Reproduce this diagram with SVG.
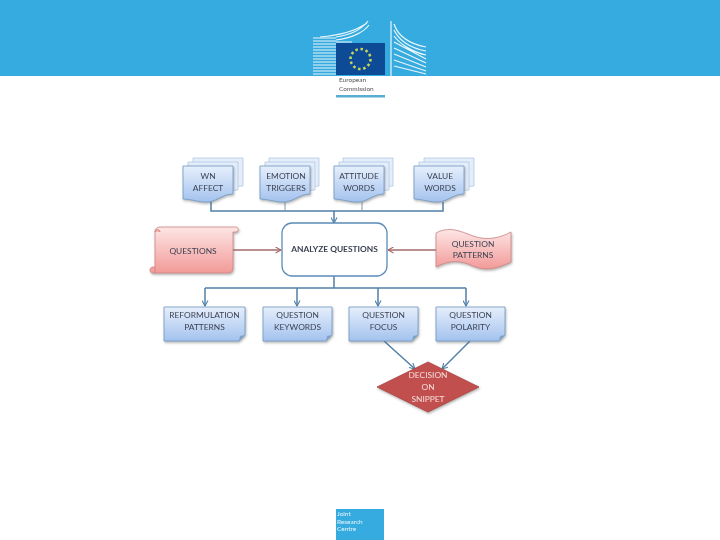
<svg xmlns="http://www.w3.org/2000/svg" width="720" height="540" viewBox="0 0 720 540">
<defs>
<linearGradient id="blue" x1="0" y1="0" x2="0" y2="1"><stop offset="0" stop-color="#e6effc"/><stop offset="1" stop-color="#a3c2ee"/></linearGradient>
<linearGradient id="red" x1="0" y1="0" x2="0" y2="1"><stop offset="0" stop-color="#fde6e5"/><stop offset="1" stop-color="#f29a98"/></linearGradient>
<filter id="soft" x="0" y="0" width="100%" height="100%"><feGaussianBlur stdDeviation="0.45"/></filter>
<filter id="shadow" x="-10%" y="-10%" width="125%" height="125%"><feDropShadow dx="0.8" dy="1.5" stdDeviation="1" flood-color="#555" flood-opacity=".45"/></filter>
<marker id="arB" markerWidth="7" markerHeight="7" refX="6" refY="3.5" orient="auto" markerUnits="userSpaceOnUse"><path d="M0.5 0.5L6 3.500L0.5 6.500" fill="none" stroke="#4f81a8" stroke-width="1.100"/></marker>
<marker id="arR" markerWidth="7" markerHeight="7" refX="6" refY="3.5" orient="auto" markerUnits="userSpaceOnUse"><path d="M0.5 0.5L6 3.500L0.5 6.500" fill="none" stroke="#a66a68" stroke-width="1.100"/></marker>
<path id="docw" d="M0 0H50V28C38 28 34 37 20 36C12 35 6 33 0 33Z"/>
</defs>
<style>
text{font-family:"Lato","Open Sans","Liberation Sans",sans-serif;font-size:8.400px;fill:#3c4252;text-anchor:middle}
.bd{fill:url(#blue);stroke:#6f98c2;stroke-width:.8;filter:url(#shadow)}
.bk{fill:#e4edfa;stroke:#a9c2de;stroke-width:.7}
.rd{fill:url(#red);stroke:#c98583;stroke-width:.8;filter:url(#shadow)}
.bl{fill:none;stroke:#527fa8;stroke-width:1.500}
.thin{fill:none;stroke:#8097a8;stroke-width:1}
.rl{fill:none;stroke:#a66a68;stroke-width:1.400}
.w{fill:none;stroke:#eaf6fc;stroke-width:1.200}
.sm{font-size:6.500px;text-anchor:start}
</style>
<rect width="720" height="540" fill="#fff"/>
<g filter="url(#soft)">
<g id="header">
<rect width="720" height="76" fill="#36abdf"/>
<g class="w">
<path d="M313 38H336M313 41H336M313 44H336M313 47H336M313 50H336M313 53H336M313 56H336M313 59H336M313 62H336M313 65H336M313 68H336M313 71H336M313 74H336"/>
<path d="M336 37C350 35 362 29 368 21M336 40C352 38 364 32 369 25M336 42H352M320 37C345 35 360 28 367 23"/>
<path d="M391 21V76M394 24C398 36 410 44 426 47M394 30C399 40 410 48 426 51M394 36C400 44 412 52 426 55M394 42L426 59M394 48L426 63M394 54L426 67M394 60L426 71M394 66L426 74"/>
</g>
<rect x="336" y="43" width="49" height="32" fill="#0f4c96"/>
<circle cx="360.500" cy="59" r="10" fill="none" stroke="#c9d65a" stroke-width="2.500" stroke-dasharray="2.500 2.700"/>
<text x="339" y="82" class="sm" style="fill:#555">European</text>
<text x="339" y="91" class="sm" style="fill:#555">Commission</text>
<rect x="336" y="95" width="49" height="2.500" fill="#5aaed2"/>
</g>
<g id="connectors">
<path class="bl" d="M211 202V211H443V202M334 211V223" marker-end="url(#arB)"/>
<path class="thin" d="M285 202V211M362 202V211"/>
<path class="rl" d="M233 250H281" marker-end="url(#arR)"/>
<path class="rl" d="M436 250H388" marker-end="url(#arR)"/>
<path class="bl" d="M334 276V288"/>
<path class="bl" d="M205 288H466"/>
<path class="bl" d="M205 288V306" marker-end="url(#arB)"/>
<path class="bl" d="M297 288V306" marker-end="url(#arB)"/>
<path class="bl" d="M378 288V306" marker-end="url(#arB)"/>
<path class="bl" d="M466 288V306" marker-end="url(#arB)"/>
<path class="bl" d="M384 341L415 369" marker-end="url(#arB)"/>
<path class="bl" d="M470 341L442 369" marker-end="url(#arB)"/>
</g>
<g id="wn-affect">
<use href="#docw" x="193" y="158" class="bk"/><use href="#docw" x="188" y="162" class="bk"/><use href="#docw" x="183" y="166" class="bd"/>
<text x="208" y="179">WN</text><text x="208" y="191">AFFECT</text>
</g>
<g id="emotion-triggers">
<use href="#docw" x="269" y="158" class="bk"/><use href="#docw" x="265" y="162" class="bk"/><use href="#docw" x="260" y="166" class="bd"/>
<text x="286" y="179">EMOTION</text><text x="286" y="191">TRIGGERS</text>
</g>
<g id="attitude-words">
<use href="#docw" x="343" y="158" class="bk"/><use href="#docw" x="339" y="162" class="bk"/><use href="#docw" x="334" y="166" class="bd"/>
<text x="359" y="179">ATTITUDE</text><text x="359" y="191">WORDS</text>
</g>
<g id="value-words">
<use href="#docw" x="424" y="158" class="bk"/><use href="#docw" x="419" y="162" class="bk"/><use href="#docw" x="414" y="166" class="bd"/>
<text x="440" y="179">VALUE</text><text x="440" y="191">WORDS</text>
</g>
<g id="questions">
<path class="rd" d="M155 273V232C155 229 157 227 160 227H236C239 227 239 232 236 232H233V268C233 272 231 273 228 273H153C149 273 149 267 153 267H155"/>
<path d="M155 232C155 229 160 229 160 232" fill="#f5b5b3" stroke="#bf6b69" stroke-width=".8"/>
<text x="193" y="254">QUESTIONS</text>
</g>
<g id="analyze-questions">
<rect x="282" y="223" width="105" height="53" rx="10" fill="#fff" stroke="#5b8bb8" stroke-width="1.300"/>
<text x="334.500" y="252" style="font-weight:700">ANALYZE QUESTIONS</text>
</g>
<g id="question-patterns">
<path class="rd" d="M436 233C449 226 460 231 473 236C487 241 500 238 511 232V262C498 268 487 272 473 266C460 260 449 260 436 267Z"/>
<text x="473" y="247">QUESTION</text><text x="473" y="258">PATTERNS</text>
</g>
<g id="reformulation-patterns">
<path class="bd" d="M164 307H245V335L239 341H164Z"/>
<path d="M245 335L240 336L239 341Z" fill="#7fa3c9"/>
<text x="204.500" y="318">REFORMULATION</text><text x="204.500" y="330">PATTERNS</text>
</g>
<g id="question-keywords">
<path class="bd" d="M263 307H332V335L326 341H263Z"/>
<path d="M332 335L327 336L326 341Z" fill="#7fa3c9"/>
<text x="297.500" y="318">QUESTION</text><text x="297.500" y="330">KEYWORDS</text>
</g>
<g id="question-focus">
<path class="bd" d="M349 307H418V335L412 341H349Z"/>
<path d="M418 335L413 336L412 341Z" fill="#7fa3c9"/>
<text x="383.500" y="318">QUESTION</text><text x="383.500" y="330">FOCUS</text>
</g>
<g id="question-polarity">
<path class="bd" d="M436 307H505V335L499 341H436Z"/>
<path d="M505 335L500 336L499 341Z" fill="#7fa3c9"/>
<text x="470.500" y="318">QUESTION</text><text x="470.500" y="330">POLARITY</text>
</g>
<g id="decision">
<path d="M428 362L479 387L428 412L377 387Z" fill="#c0504d" stroke="#a94442" stroke-width=".8" filter="url(#shadow)"/>
<text x="428" y="378" style="fill:#f6dedd">DECISION</text><text x="428" y="390" style="fill:#f6dedd">ON</text><text x="428" y="402" style="fill:#f6dedd">SNIPPET</text>
</g>
<g id="footer">
<rect x="336" y="509" width="48" height="31" fill="#36abdf"/>
<text x="337" y="516" class="sm" style="fill:#e8f5fb">Joint</text>
<text x="337" y="523.500" class="sm" style="fill:#e8f5fb">Research</text>
<text x="337" y="531" class="sm" style="fill:#e8f5fb">Centre</text>
</g>
</g>
</svg>
